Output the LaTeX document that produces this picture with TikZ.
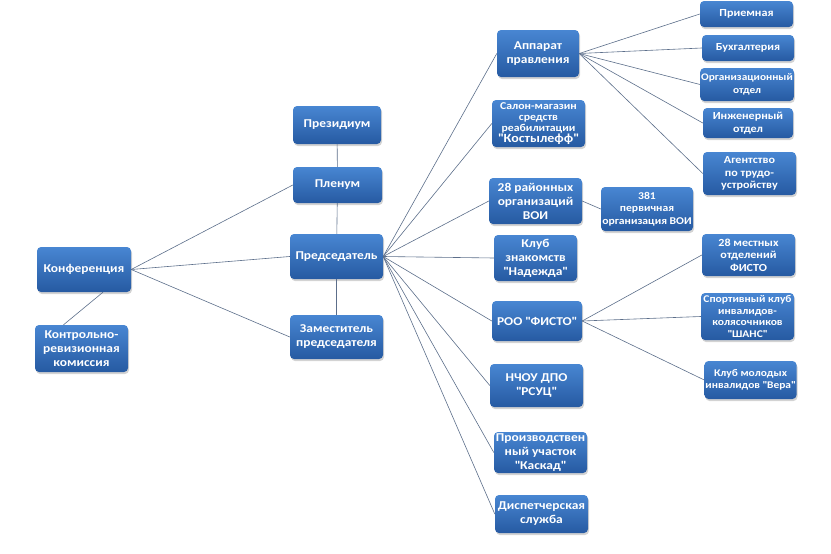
\documentclass[tikz,border=0pt]{standalone}
\usepackage{fontspec}
\setmainfont{Carlito}[FakeStretch=1.12]
\usetikzlibrary{positioning, shadows}

\definecolor{boxtop}{RGB}{72,134,210}
\definecolor{boxbot}{RGB}{38,90,162}
\definecolor{linecol}{RGB}{92,110,138}

\newcommand\quoted[1]{\textquotedbl#1\textquotedbl}

\begin{document}
\begin{tikzpicture}[
    x=1pt, y=-1pt,
    font=\bfseries\fontsize{12}{14}\selectfont,
    every edge/.style={draw=linecol, line width=0.6pt},
    unit/.style={rectangle, rounded corners=4pt, top color=boxtop, bottom color=boxbot,
        text=white, align=center, inner sep=1pt,
        drop shadow={shadow xshift=1pt, shadow yshift=-2pt, opacity=0.35}},
    small/.style={unit, font=\bfseries\fontsize{10.8}{12.5}\selectfont}
]
\useasboundingbox (0,0) rectangle (831,554);

% left part
\node[unit, minimum width=94pt, minimum height=45pt] (conf) at (84,269.5) {Конференция};
\node[unit, minimum width=93pt, minimum height=47pt] (audit) at (81.5,348.5) {Контрольно-\\ревизионная\\комиссия};

% central column
\node[unit, minimum width=88pt, minimum height=38pt] (prez) at (337,125) {Президиум};
\node[unit, minimum width=89pt, minimum height=36pt] (plenum) at (337.5,185) {Пленум};
\node[unit, minimum width=93pt, minimum height=45pt] (chair) at (336.5,256.5) {Председатель};
\node[unit, minimum width=93pt, minimum height=44pt] (deputy) at (336.5,337) {Заместитель\\председателя};

% units under the chairman
\node[small, minimum width=93pt, minimum height=47pt, font=\bfseries\fontsize{10.5}{11}\selectfont] (salon) at (538.5,123.5) {Салон-магазин\\средств\\реабилитации\\{\fontsize{12.5}{13}\selectfont\quoted{Костылефф}}};
\node[unit, minimum width=82pt, minimum height=47pt] (apparat) at (538,53.5) {Аппарат\\правления};
\node[unit, minimum width=93pt, minimum height=46pt] (district) at (535.5,201) {28 районных\\организаций\\ВОИ};
\node[unit, minimum width=83pt, minimum height=46pt] (club) at (535.5,258) {Клуб\\знакомств\\\quoted{Надежда}};
\node[unit, minimum width=90pt, minimum height=40pt] (fisto) at (537,321) {РОО \quoted{ФИСТО}};
\node[unit, minimum width=93pt, minimum height=43pt] (nchou) at (536.5,385.5) {НЧОУ ДПО\\\quoted{РСУЦ}};
\node[unit, minimum width=93pt, minimum height=41pt] (kaskad) at (540.5,452.5) {Производствен\\ный участок\\\quoted{Каскад}};
\node[unit, minimum width=93pt, minimum height=38pt] (dispatch) at (541.5,514) {Диспетчерская\\служба};

\node[small, minimum width=92pt, minimum height=44pt, font=\bfseries\fontsize{10.4}{12.5}\selectfont] (primary) at (647,209) {381\\первичная\\организация ВОИ};

% apparatus departments
\node[small, minimum width=93pt, minimum height=26pt] (reception) at (746.5,14) {Приемная};
\node[small, minimum width=92pt, minimum height=26pt] (account) at (748,48) {Бухгалтерия};
\node[small, minimum width=90pt, minimum height=33pt, font=\bfseries\fontsize{10.1}{12.5}\selectfont] (orgdept) at (747,84.5) {Организационный\\отдел};
\node[small, minimum width=90pt, minimum height=30pt] (engdept) at (748,123) {Инженерный\\отдел};
\node[small, minimum width=93pt, minimum height=43pt] (agency) at (749.5,173.5) {Агентство\\по трудо-\\устройству};

% FISTO members
\node[small, minimum width=93pt, minimum height=42pt] (local) at (748.5,255) {28 местных\\отделений\\ФИСТО};
\node[small, minimum width=93pt, minimum height=47pt, font=\bfseries\fontsize{10.3}{11.5}\selectfont] (chance) at (747.5,316.5) {Спортивный клуб\\инвалидов-\\колясочников\\\quoted{ШАНС}};
\node[small, minimum width=91pt, minimum height=38pt, font=\bfseries\fontsize{10.2}{12.5}\selectfont] (vera) at (750.5,380) {Клуб молодых\\инвалидов \quoted{Вера}};

\path
    (prez) edge (plenum)
    (plenum) edge (chair)
    (chair) edge (deputy)
    ([xshift=19pt]conf.south) edge ([xshift=-18pt]audit.north)
    (conf.east) edge (plenum.west)
    (conf.east) edge (chair.west)
    (conf.east) edge (deputy.west);

\foreach \n in {apparat, salon, district, club, fisto, nchou, kaskad, dispatch}
    \path (chair.east) edge (\n.west);

\foreach \n in {reception, account, orgdept, engdept, agency}
    \path (apparat.east) edge (\n.west);

\foreach \n in {local, chance, vera}
    \path (fisto.east) edge (\n.west);

\path (district.east) edge (primary.west);

\end{tikzpicture}
\end{document}
